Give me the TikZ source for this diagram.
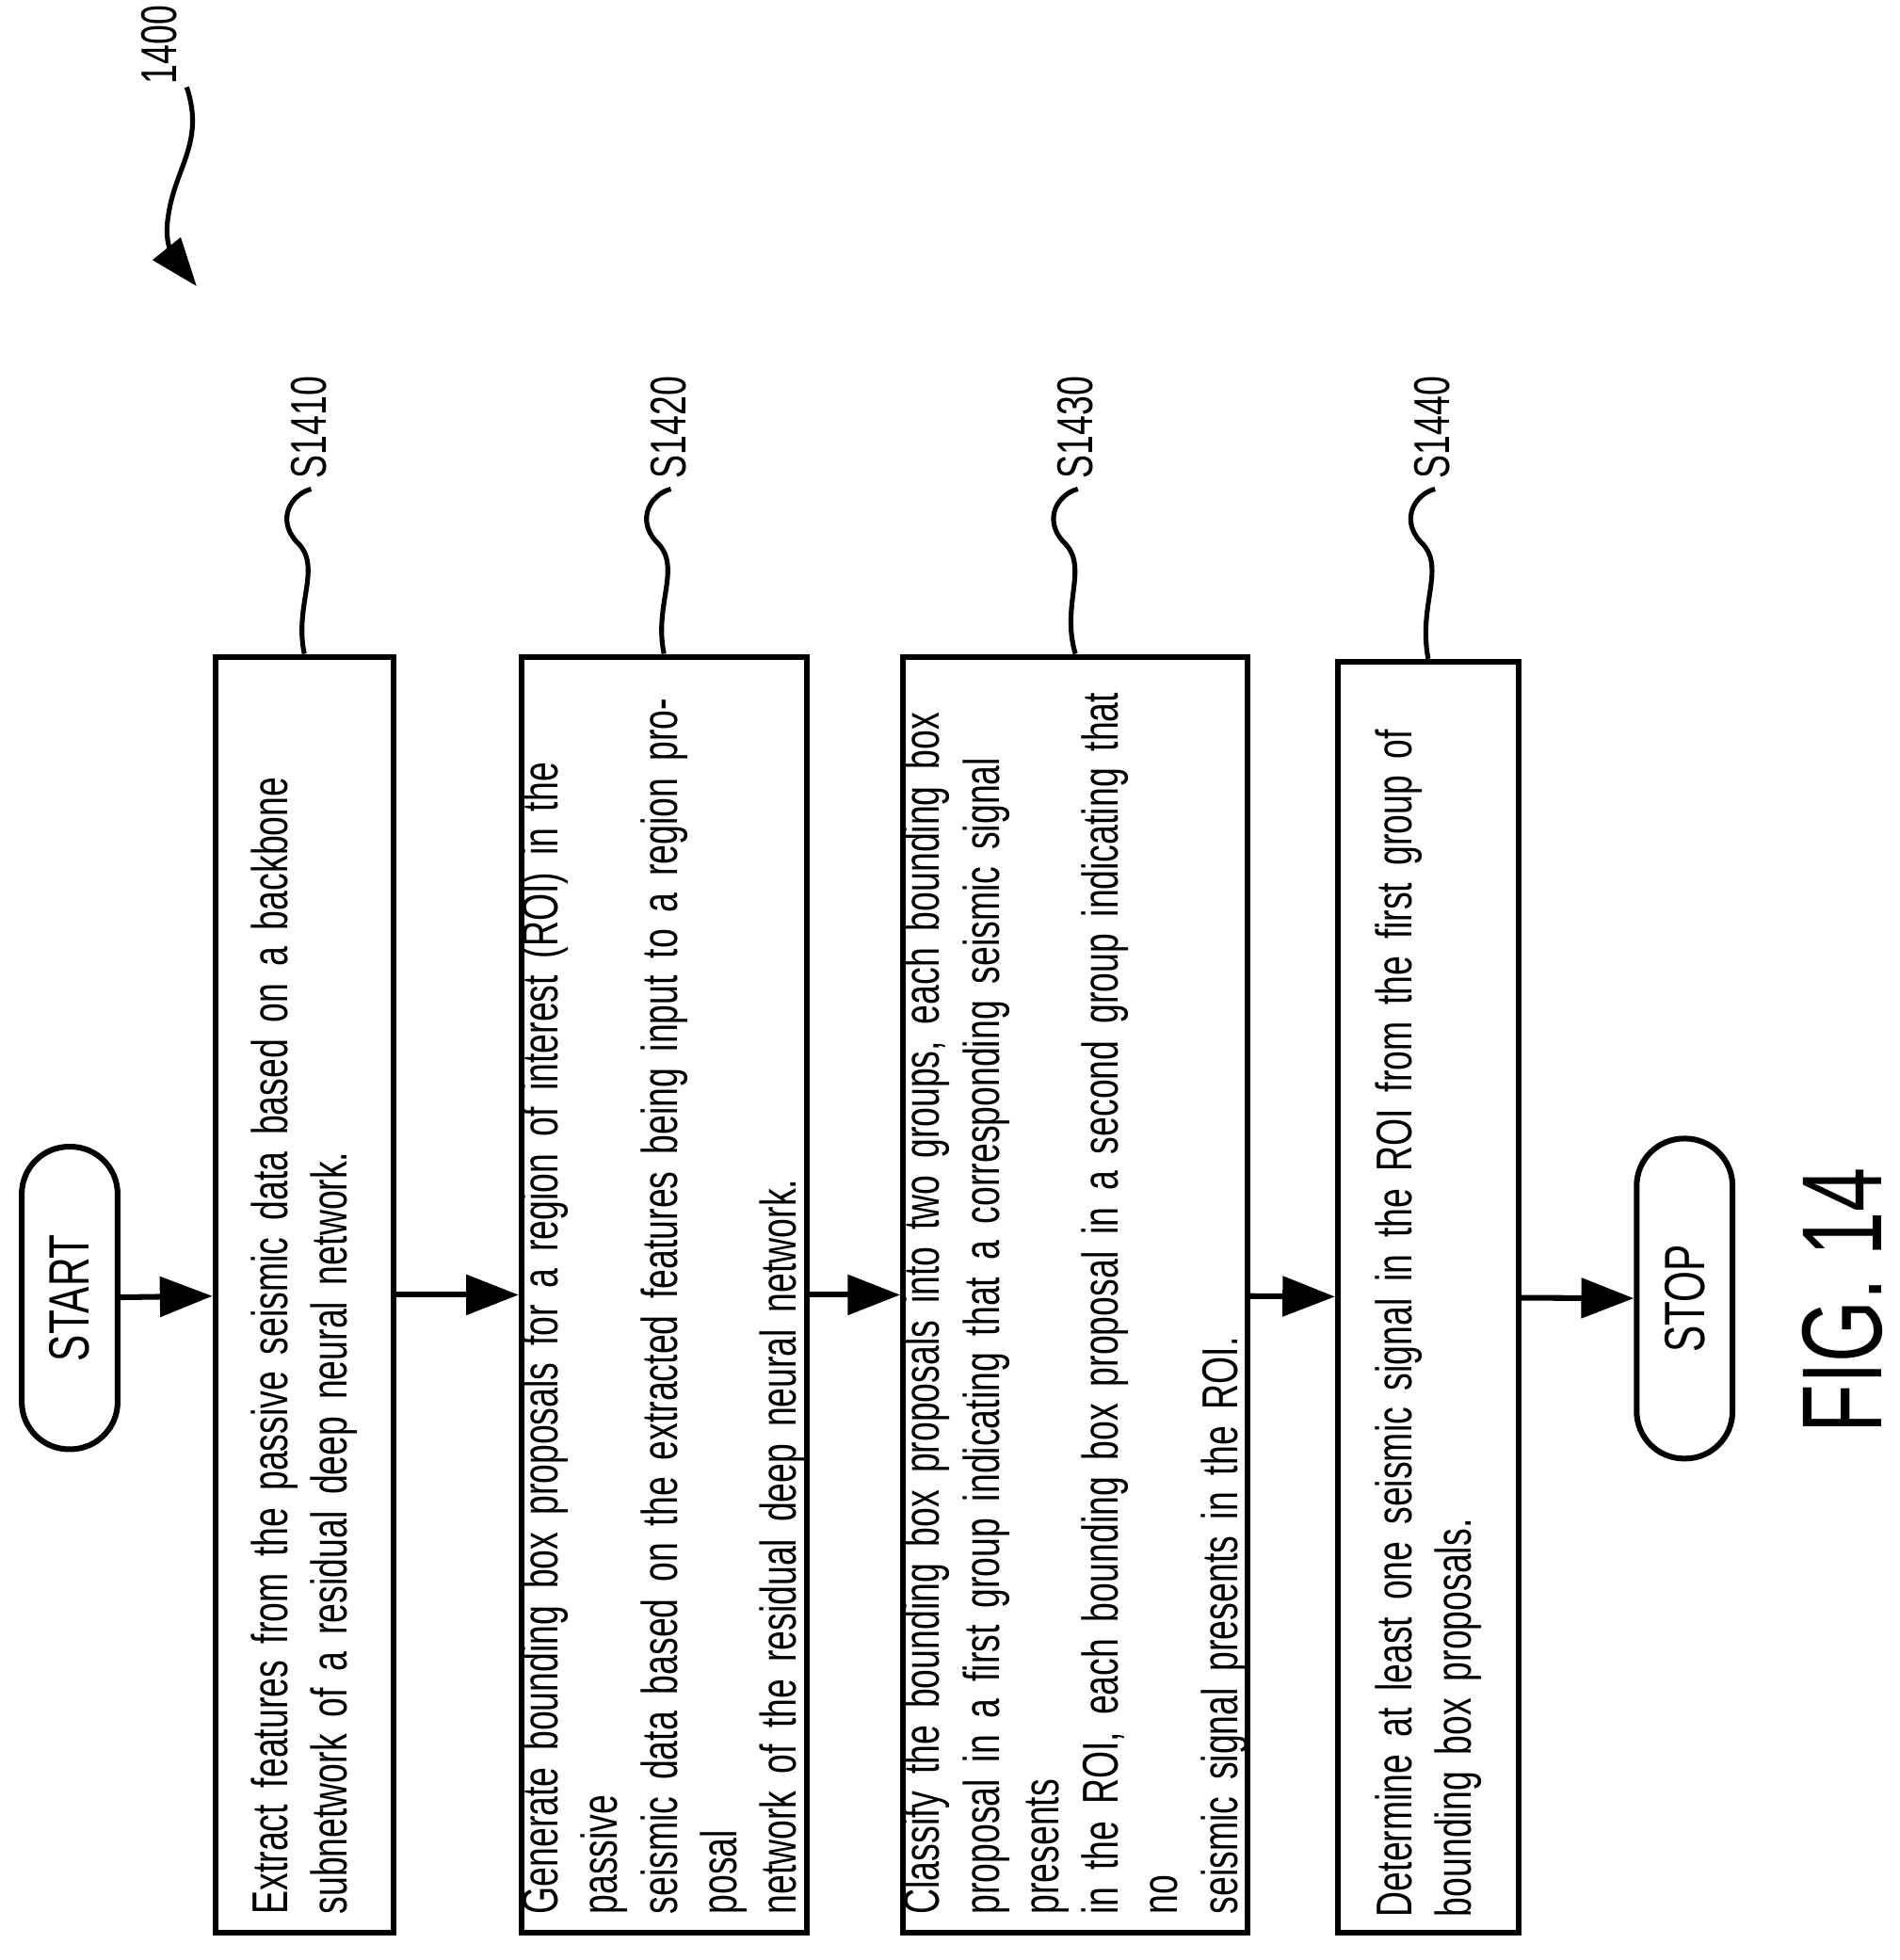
\documentclass[tikz,border=0pt]{standalone}
\usepackage{fontspec}
\setmainfont[FakeStretch=0.7]{Liberation Sans}
\usetikzlibrary{arrows.meta}

\tikzset{
  stepbox/.style={draw, line width=1.3pt, rotate=90, inner sep=0pt, align=left,
    font=\fontsize{11.5}{13.6}\selectfont},
  term/.style={draw, line width=1.3pt, rotate=90, rounded corners=0.38cm,
    minimum height=0.77cm, font=\fontsize{13}{15}\selectfont},
  flow/.style={line width=1.3pt, -{Triangle[length=12pt,width=9pt]}},
  tag/.style={rotate=90, font=\fontsize{11.5}{13.6}\selectfont},
  wave/.style={line width=1.1pt}
}

\begin{document}
\begin{tikzpicture}[x=0.01cm, y=0.01cm]
\useasboundingbox (0,0) rectangle (1526,1575);

\node[term, minimum width=2.43cm] (start) at (56,532) {START};
\node[stepbox, minimum width=10.25cm, minimum height=1.43cm, text width=9.95cm] (s1410) at (244.5,534.5)
  {Extract features from the passive seismic data based on a backbone\\
   subnetwork of a residual deep neural network.};
\node[stepbox, minimum width=10.25cm, minimum height=2.13cm, text width=9.95cm] (s1420) at (533.5,534.5)
  {Generate bounding box proposals for a region of interest (ROI) in the passive\\
   seismic data based on the extracted features being input to a region proposal\\
   network of the residual deep neural network.};
\node[stepbox, minimum width=10.25cm, minimum height=2.28cm, text width=9.95cm] (s1430) at (864,534.5)
  {Classify the bounding box proposals into two groups, each bounding box\\
   proposal in a first group indicating that a corresponding seismic signal presents\\
   in the ROI, each bounding box proposal in a second group indicating that no\\
   seismic signal presents in the ROI.};
\node[stepbox, minimum width=10.21cm, minimum height=1.45cm, text width=9.95cm] (s1440) at (1147.5,532.5)
  {Determine at least one seismic signal in the ROI from the first group of\\
   bounding box proposals.};
\node[term, minimum width=2.57cm] (stop) at (1353.5,531.5) {STOP};

\draw[flow] (start) -- (s1410);
\draw[flow] (s1410) -- (s1420);
\draw[flow] (s1420) -- (s1430);
\draw[flow] (s1430) -- (s1440);
\draw[flow] (s1440) -- (stop);

% step labels
\foreach \s/\x in {1410/244, 1420/533, 1430/860, 1440/1147}{
  \node[tag, anchor=west] (l\s) at (\x+4,1178) {S\s};
  \draw[wave] (s\s.east) .. controls (\x-8,1090) and (\x+16,1120) .. (\x-6,1140)
    .. controls (\x-22,1158) and (\x-10,1178) .. (\x+6,1182);
}

% figure number
\node[tag, anchor=west] (fig) at (128,1495) {1400};
\draw[wave, -{Triangle[length=11pt,width=8pt]}] (150,1505)
  .. controls (165,1460) and (140,1440) .. (135,1400)
  .. controls (130,1370) and (150,1355) .. (158,1345);

\node[rotate=90, font=\fontsize{26}{30}\selectfont] (caption) at (1480,530) {FIG. 14};
\end{tikzpicture}
\end{document}
